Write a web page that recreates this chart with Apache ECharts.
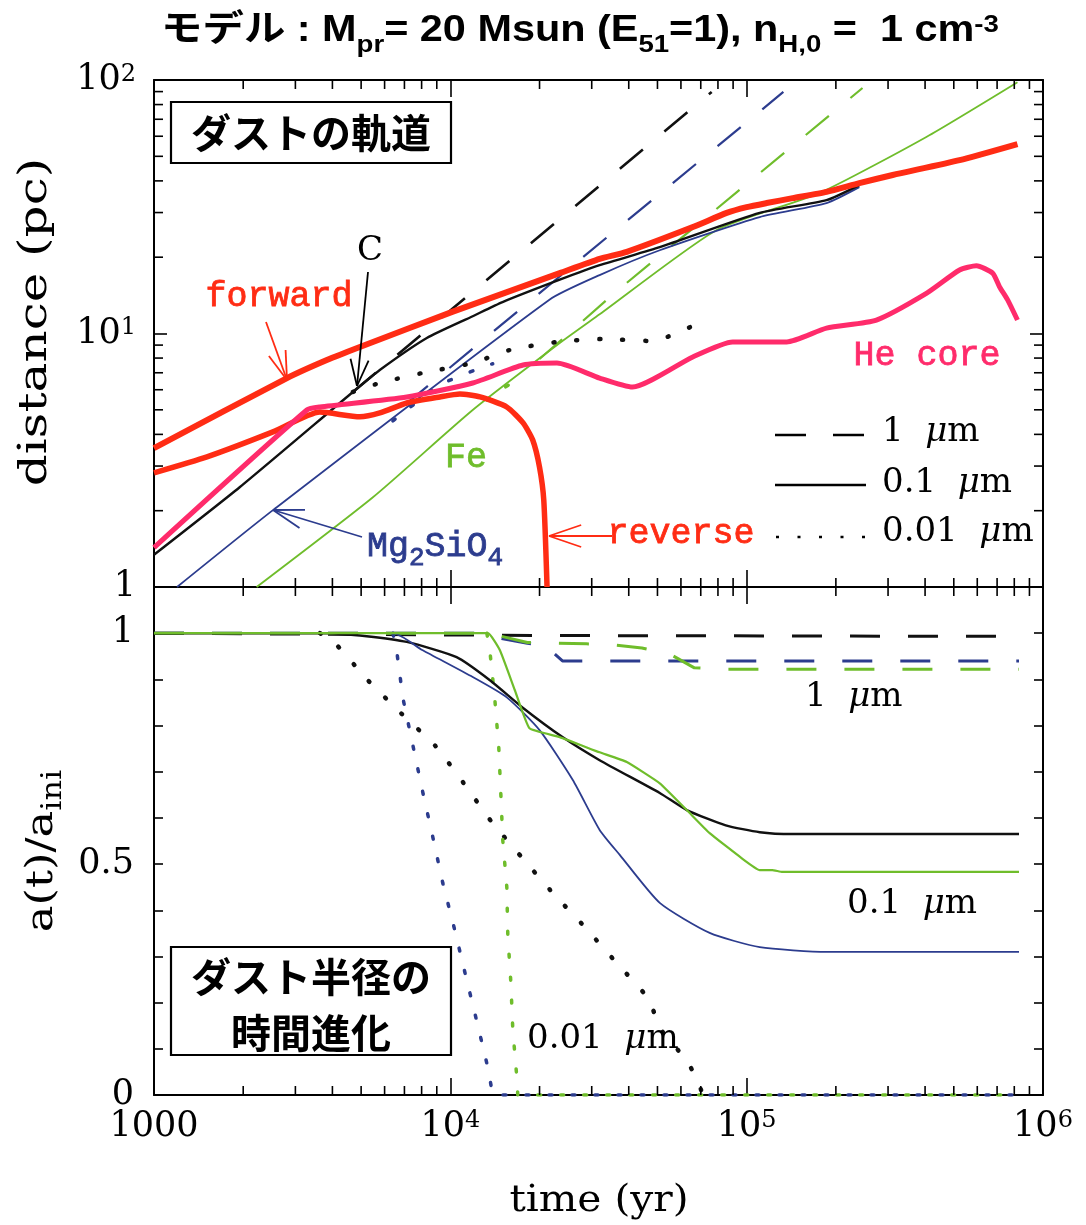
<!DOCTYPE html>
<html>
<head>
<meta charset="utf-8">
<script src="https://cdn.jsdelivr.net/npm/echarts@6/dist/echarts.min.js"></script>
<style>
  html, body { margin: 0; padding: 0; background: #fff; }
  #chart { width: 1086px; height: 1225px; }
</style>
</head>
<body>
<div id="chart"></div>
<script>
// ---- axis ticks -------------------------------------------------------
const timeTicks = [1000, 1e4, 1e5, 1e6];
const distanceTicks = [1, 10, 100];
const ratioTickLabels = [0, 0.5, 1];

// ---- upper panel: distance from the explosion centre (pc) vs time (yr) --
const forwardShock = [[1000,3.53],[2810,6.67],[3830,7.86],[4950,8.85],[10200,12.2],[23400,17.3],[31900,19.7],[39400,21.0],[65800,26.3],[85600,29.9],[100000,31.5],[116800,32.7],[143000,34.2],[186000,36.2],[240000,39.2],[311000,42.2],[523000,48.3],[820000,55.9]];
const reverseShock = [[1000,2.82],[1509,3.26],[2520,4.09],[3630,4.90],[4950,4.69],[5780,4.86],[7130,5.32],[9220,5.62],[10770,5.77],[12600,5.62],[15500,5.13],[17600,4.44],[18970,3.80],[20000,2.97],[20670,2.20],[21200,1.0]];
const heCore = [[1000,1.43],[3280,4.99],[3630,5.13],[7130,5.62],[11900,6.38],[17600,7.51],[22900,7.65],[31900,6.67],[41200,6.15],[65800,8.08],[89700,9.26],[136500,9.26],[186000,10.5],[274000,11.3],[404000,14.4],[523000,17.8],[596000,18.5],[676000,17.3],[713000,15.3],[759000,13.6],[820000,11.3]];

const carbonR_1um   = [[4690,5.88],[76200,89.7]];
const carbonR_01um  = [[1000,1.34],[1950,2.48],[4690,5.88],[5780,7.18],[8330,9.60],[11900,11.7],[15000,13.3],[23400,16.3],[31900,18.6],[50900,21.9],[110700,29.9],[186000,33.6],[240000,38.5]];
const carbonR_001um = [[4690,5.88],[5780,6.38],[8070,6.99],[11900,7.65],[15900,8.61],[22900,9.26],[32700,9.51],[47800,9.34],[56300,9.87],[67800,10.9]];

const silicateR_1um   = [[7020,5.22],[28000,20.0],[133000,89.7]];
const silicateR_01um  = [[1196,1.0],[2520,2.01],[21600,13.6],[31900,17.0],[50900,21.3],[110700,28.8],[186000,32.7],[240000,37.8]];
const silicateR_001um = [[6400,4.52],[9220,6.26],[12600,7.31],[13900,7.6]];

const ironR_1um   = [[20000,7.93],[36700,14.8],[73300,28.8],[246000,93.0]];
const ironR_01um  = [[2220,1.0],[5480,2.26],[11900,4.99],[23400,9.17],[31900,11.9],[79200,25.6],[176000,35.8],[404000,59.6],[820000,98.0]];
const ironR_001um = [[13280,5.47],[15000,6.05],[16760,6.56]];

// ---- lower panel: grain radius relative to its initial value -----------
const carbonA_1um   = [[1000,1.0],[20000,0.995],[830000,0.993]];
const carbonA_01um  = [[1000,1.0],[3830,1.0],[5220,0.9935],[7130,0.981],[10500,0.948],[13600,0.898],[17600,0.838],[23900,0.775],[31900,0.725],[50900,0.654],[62800,0.617],[85000,0.584],[110700,0.569],[143000,0.565],[830000,0.565]];
const carbonA_001um = [[3630,1.0],[4140,0.974],[5270,0.898],[6810,0.827],[8930,0.755],[11100,0.675],[13800,0.591],[17400,0.515],[22200,0.437],[28400,0.364],[36400,0.286],[46400,0.21],[51600,0.14],[61800,0.08],[67800,0.037],[71100,0]];

const silicateA_1um   = [[1000,1.0],[12000,1.0],[18200,0.978],[21500,0.972],[22500,0.955],[23900,0.94],[830000,0.94]];
const silicateA_01um  = [[1000,1.0],[6400,1.0],[8070,0.963],[11900,0.905],[15500,0.861],[20000,0.79],[25900,0.682],[31900,0.574],[37300,0.52],[50900,0.416],[75000,0.351],[110700,0.32],[186000,0.31],[830000,0.31]];
const silicateA_001um = [[6400,1.0],[6600,0.959],[6920,0.859],[7470,0.758],[8070,0.656],[8730,0.558],[9430,0.459],[10350,0.357],[11300,0.255],[12300,0.158],[13400,0.058],[13900,0],[830000,0]];

const ironA_1um   = [[1000,1.0],[13400,1.0],[18200,0.98],[28800,0.977],[35300,0.975],[44300,0.968],[55000,0.955],[66600,0.925],[83000,0.922],[830000,0.922]];
const ironA_01um  = [[1000,1.0],[13380,1.0],[14700,0.963],[16500,0.877],[18500,0.794],[23400,0.775],[31900,0.742],[39400,0.721],[50900,0.675],[62800,0.617],[75000,0.567],[96100,0.513],[110700,0.487],[122000,0.487],[132000,0.483],[830000,0.483]];
const ironA_001um = [[13280,1.0],[13590,0.963],[14120,0.859],[14570,0.753],[14800,0.654],[15030,0.552],[15510,0.45],[15630,0.346],[16000,0.245],[16250,0.141],[16760,0.039],[16890,0],[830000,0]];

// ---- styling ----------------------------------------------------------
const RED = '#ff2c14', PINK = '#ff2b6b', BLUE = '#2c3c8e', GREEN = '#6fbd2b', BLACK = '#111111';
const SERIF = "'DejaVu Serif', serif";
const MONO = "'Liberation Mono', monospace";
const SANS_JP = "'Noto Sans CJK JP', sans-serif";
const TITLE_FONT = "'Liberation Sans Narrow', 'Liberation Sans', 'Noto Sans CJK JP', sans-serif";

const DASH = [30, 28];
const DOT = [1, 22];
const DOT_LONG = [3, 20];

// rich-text styles: m = normal, i = italic, s = subscript, p = superscript
function richSet(F, f, drop, family, extra) {
  const base = Object.assign({ fontFamily: family }, extra || {});
  return {
    m: Object.assign({}, base, { fontSize: F, lineHeight: F, verticalAlign: 'top' }),
    i: Object.assign({}, base, { fontSize: F, lineHeight: F, verticalAlign: 'top', fontStyle: 'italic' }),
    s: Object.assign({}, base, { fontSize: f, lineHeight: f, verticalAlign: 'top', padding: [drop, 0, 0, 0] }),
    p: Object.assign({}, base, { fontSize: f, lineHeight: f, verticalAlign: 'top' })
  };
}

const grids = [
  { left: 154, top: 80, width: 889, height: 507 },
  { left: 154, top: 587, width: 889, height: 508 }
];
const yRange = [[1, 100], [0, 1.1]];

function frameAxis(extra) {
  return Object.assign({
    axisLine: { show: true, onZero: false, lineStyle: { color: '#000', width: 2 } },
    splitLine: { show: false },
    axisLabel: { show: false }
  }, extra);
}

function timeAxis(gridIndex, position, withLabels) {
  const ax = frameAxis({
    type: 'log', logBase: 10, gridIndex, position, min: 1000, max: 1e6,
    axisTick: { show: true, inside: true, length: 17, lineStyle: { color: '#000', width: 1.6 } }
  });
  if (withLabels) {
    ax.axisLabel = {
      show: true, margin: 14, color: '#000',
      formatter: v => {
        const e = Math.round(Math.log10(v));
        if (!timeTicks.some(t => Math.abs(Math.log10(t) - e) < 1e-6)) return '';
        return e === 3 ? '{m|1000}' : '{m|10}{p|' + e + '}';
      },
      rich: richSet(35, 24, 18, SERIF)
    };
  }
  return ax;
}

function distanceAxis(position, withLabels) {
  const ax = frameAxis({
    type: 'log', logBase: 10, gridIndex: 0, position, min: 1, max: 100,
    axisTick: { show: true, inside: true, length: 13, lineStyle: { color: '#000', width: 1.6 } }
  });
  if (withLabels) {
    ax.axisLabel = {
      show: true, margin: 18, color: '#000',
      formatter: v => {
        const e = Math.round(Math.log10(v));
        if (!distanceTicks.some(t => Math.abs(Math.log10(t) - e) < 1e-6)) return '';
        return e === 0 ? '{m|1}' : '{m|10}{p|' + e + '}';
      },
      rich: richSet(35, 24, 18, SERIF)
    };
  }
  return ax;
}

function ratioAxis(position, withLabels) {
  const ax = frameAxis({
    type: 'value', gridIndex: 1, position, min: 0, max: 1.1, interval: 0.1,
    axisTick: { show: true, inside: true, length: 9, lineStyle: { color: '#000', width: 1.6 } }
  });
  if (withLabels) {
    ax.axisLabel = {
      show: true, margin: 20, color: '#000',
      formatter: v => ratioTickLabels.some(t => Math.abs(t - v) < 1e-6) ? '{m|' + (+v.toFixed(1)) + '}' : '',
      rich: richSet(35, 24, 18, SERIF)
    };
  }
  return ax;
}

// minor ticks (2..9 within each decade), placed through the axis scales
const timeMinor = [];
for (const d of [1e3, 1e4, 1e5]) for (let k = 2; k <= 9; k++) timeMinor.push(k * d);
const distanceMinor = [];
for (const d of [1, 10]) for (let k = 2; k <= 9; k++) distanceMinor.push(k * d);

function tickLine(x1, y1, x2, y2) {
  return { type: 'line', shape: { x1, y1, x2, y2 }, style: { stroke: '#000', lineWidth: 1.6 } };
}

function timeMinorTicks(gi, len) {
  const [lo, hi] = yRange[gi];
  return {
    type: 'custom', xAxisIndex: gi * 2, yAxisIndex: gi * 2, silent: true, clip: false, z: 20,
    data: timeMinor.map(v => [v, lo]),
    renderItem: (params, api) => {
      const v = api.value(0);
      const b = api.coord([v, lo]), t = api.coord([v, hi]);
      return { type: 'group', children: [tickLine(b[0], b[1], b[0], b[1] - len), tickLine(t[0], t[1], t[0], t[1] + len)] };
    }
  };
}

function distanceMinorTicks(len) {
  return {
    type: 'custom', xAxisIndex: 0, yAxisIndex: 0, silent: true, clip: false, z: 20,
    data: distanceMinor.map(v => [1000, v]),
    renderItem: (params, api) => {
      const v = api.value(1);
      const l = api.coord([1000, v]), r = api.coord([1e6, v]);
      return { type: 'group', children: [tickLine(l[0], l[1], l[0] + len, l[1]), tickLine(r[0], r[1], r[0] - len, r[1])] };
    }
  };
}

function curve(name, data, gi, color, width, type, opts) {
  opts = opts || {};
  return {
    type: 'line', name, data, xAxisIndex: gi * 2, yAxisIndex: gi * 2,
    symbol: 'none', silent: true, animation: false,
    smooth: opts.smooth === undefined ? 0.2 : opts.smooth,
    z: opts.z || 3,
    lineStyle: { color, width, type: type || 'solid', cap: opts.cap || 'butt', join: 'round' }
  };
}

const series = [
  // upper panel
  curve('Fe 1μm', ironR_1um, 0, GREEN, 2.2, DASH, { smooth: false }),
  curve('Fe 0.01μm', ironR_001um, 0, GREEN, 3.5, DOT_LONG, { cap: 'round' }),
  curve('Fe 0.1μm', ironR_01um, 0, GREEN, 1.8),
  curve('Mg2SiO4 1μm', silicateR_1um, 0, BLUE, 2.2, DASH, { smooth: false }),
  curve('Mg2SiO4 0.01μm', silicateR_001um, 0, BLUE, 3.5, DOT_LONG, { cap: 'round' }),
  curve('Mg2SiO4 0.1μm', silicateR_01um, 0, BLUE, 1.8),
  curve('C 1μm', carbonR_1um, 0, BLACK, 2.6, DASH, { smooth: false }),
  curve('C 0.01μm', carbonR_001um, 0, BLACK, 4.5, DOT, { cap: 'round' }),
  curve('C 0.1μm', carbonR_01um, 0, BLACK, 2.4),
  curve('reverse', reverseShock, 0, RED, 5.5, 'solid', { z: 4 }),
  curve('He core', heCore, 0, PINK, 5, 'solid', { z: 5 }),
  curve('forward', forwardShock, 0, RED, 6, 'solid', { z: 6 }),
  // lower panel
  curve('C 1μm a', carbonA_1um, 1, BLACK, 3, DASH, { smooth: false }),
  curve('Mg2SiO4 1μm a', silicateA_1um, 1, BLUE, 3, DASH, { smooth: false }),
  curve('Fe 1μm a', ironA_1um, 1, GREEN, 3, DASH, { smooth: false }),
  curve('C 0.01μm a', carbonA_001um, 1, BLACK, 4.5, DOT, { cap: 'round', smooth: 0.15 }),
  curve('Mg2SiO4 0.01μm a', silicateA_001um, 1, BLUE, 3.5, DOT_LONG, { cap: 'round', smooth: false }),
  curve('Fe 0.01μm a', ironA_001um, 1, GREEN, 3.5, DOT_LONG, { cap: 'round', smooth: false }),
  curve('C 0.1μm a', carbonA_01um, 1, BLACK, 2.4),
  curve('Mg2SiO4 0.1μm a', silicateA_01um, 1, BLUE, 1.8),
  curve('Fe 0.1μm a', ironA_01um, 1, GREEN, 2.2, 'solid', { smooth: 0.12, z: 4 }),
  // minor ticks
  timeMinorTicks(0, 9),
  timeMinorTicks(1, 9),
  distanceMinorTicks(9)
];

// ---- annotations --------------------------------------------------------
function txt(x, y, text, font, color, align, extra) {
  return Object.assign({
    type: 'text', x, y, z: 50, silent: true,
    style: { text, font, fill: color, align: align || 'center', verticalAlign: 'middle' }
  }, extra || {});
}
function seg(x1, y1, x2, y2, color, w, dash) {
  const st = { stroke: color, lineWidth: w };
  if (dash) st.lineDash = dash;
  return { type: 'line', z: 50, silent: true, shape: { x1, y1, x2, y2 }, style: st };
}
function arrow(x1, y1, x2, y2, color, w, head, spread) {
  const a = Math.atan2(y2 - y1, x2 - x1);
  const items = [seg(x1, y1, x2, y2, color, w)];
  for (const s of [-spread, spread]) {
    items.push(seg(x2, y2, x2 - head * Math.cos(a + s), y2 - head * Math.sin(a + s), color, w));
  }
  return items;
}
function richText(x, y, text, rich, align, extra) {
  return Object.assign({ type: 'text', x, y, z: 50, silent: true,
    style: { text, rich, fill: '#000', align: align || 'left', verticalAlign: 'middle' } }, extra || {});
}
function monoLabel(x, y, text, color) {
  return txt(x, y, text, '35px ' + MONO, color, 'center', {
    style: { text, font: '35px ' + MONO, fill: color, stroke: color, lineWidth: 0.8, align: 'center', verticalAlign: 'middle' }
  });
}

const muRich = {
  m: { fontFamily: SERIF, fontSize: 34, fill: '#000' },
  i: { fontFamily: SERIF, fontSize: 34, fontStyle: 'italic', fill: '#000' }
};

const graphics = [
  // title
  richText(580, 31, '{m|モデル : M}{s|pr}{m|= 20 M}{m|sun}{m| (E}{s|51}{m|=1), n}{s|H,0}{m| =  1 cm}{p|-3}',
    richSet(36, 24, 20, TITLE_FONT, { fontWeight: 'bold', fill: '#000' }), 'center', { scaleX: 1.15 }),
  // axis titles
  txt(36, 322, 'distance (pc)', '40px ' + SERIF, '#000', 'center', { rotation: Math.PI / 2, scaleX: 1.25 }),
  richText(42, 851, '{m|a(t)/a}{s|ini}', richSet(38, 27, 17, SERIF, { fill: '#000' }), 'center', { rotation: Math.PI / 2, scaleX: 1.18 }),
  txt(599, 1201, 'time (yr)', '37px ' + SERIF, '#000', 'center', { scaleX: 1.1 }),
  // panel boxes
  { type: 'rect', z: 40, silent: true, shape: { x: 171, y: 102, width: 280, height: 61 }, style: { fill: '#fff', stroke: '#000', lineWidth: 2.2 } },
  txt(311, 133, 'ダストの軌道', 'bold 40px ' + SANS_JP, '#000'),
  { type: 'rect', z: 40, silent: true, shape: { x: 171, y: 947, width: 280, height: 108 }, style: { fill: '#fff', stroke: '#000', lineWidth: 2.2 } },
  txt(311, 977, 'ダスト半径の', 'bold 40px ' + SANS_JP, '#000'),
  txt(311, 1033, '時間進化', 'bold 40px ' + SANS_JP, '#000'),
  // curve labels
  txt(370, 251, 'C', '34px ' + SERIF, '#000'),
  ...arrow(368, 272, 357, 386, '#000', 1.8, 28, 0.33),
  monoLabel(279, 297, 'forward', RED),
  ...arrow(266, 322, 287, 380, RED, 1.8, 30, 0.3),
  monoLabel(927, 356, 'He core', PINK),
  monoLabel(466, 458, 'Fe', GREEN),
  richText(367, 547, '{m|Mg}{s|2}{m|SiO}{s|4}', richSet(35, 26, 16, MONO, { fill: BLUE, stroke: BLUE, lineWidth: 0.8 })),
  ...arrow(362, 537, 273, 510, BLUE, 1.8, 32, 0.3),
  monoLabel(681, 534, 'reverse', RED),
  ...arrow(612, 536, 549, 536, RED, 1.8, 34, 0.33),
  // legend
  seg(775, 435, 866, 435, '#000', 2.6, [31, 27]),
  seg(775, 485, 866, 485, '#000', 2.6),
  seg(776, 537, 866, 537, '#000', 2.6, [3, 18.5]),
  richText(882, 432, '{m|1  }{i|μ}{m|m}', muRich),
  richText(882, 483, '{m|0.1  }{i|μ}{m|m}', muRich),
  richText(882, 532, '{m|0.01  }{i|μ}{m|m}', muRich),
  // size labels in the lower panel
  richText(805, 697, '{m|1  }{i|μ}{m|m}', muRich),
  richText(847, 904, '{m|0.1  }{i|μ}{m|m}', muRich),
  richText(527, 1039, '{m|0.01  }{i|μ}{m|m}', muRich)
];

const chart = echarts.init(document.getElementById('chart'), null, { renderer: 'canvas' });
chart.setOption({
  animation: false,
  backgroundColor: '#fff',
  grid: grids,
  xAxis: [timeAxis(0, 'bottom', false), timeAxis(0, 'top', false), timeAxis(1, 'bottom', true), timeAxis(1, 'top', false)],
  yAxis: [distanceAxis('left', true), distanceAxis('right', false), ratioAxis('left', true), ratioAxis('right', false)],
  series,
  graphic: graphics
});
</script>
</body>
</html>
